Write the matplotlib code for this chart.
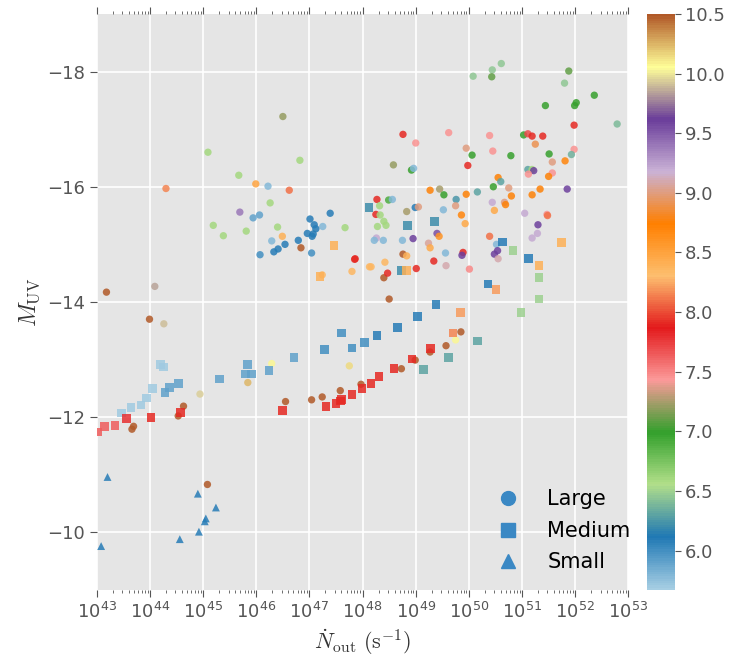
import numpy as np
import matplotlib
matplotlib.use("Agg")
import matplotlib.pyplot as plt
from matplotlib.colors import LinearSegmentedColormap, Normalize
from matplotlib.lines import Line2D
from matplotlib.ticker import LogLocator, NullFormatter

plt.style.use("ggplot")
plt.rcParams["mathtext.fontset"] = "cm"

# ---- data: log10(N_out), M_UV, colour value ----
large_logn = [43.18, 44.09, 43.99, 44.26, 44.94, 44.63, 44.53, 43.66, 43.69, 46.29,
              45.84, 46.55, 47.04, 47.24, 47.58, 47.97, 47.75, 48.40, 48.50, 46.07,
              46.33, 46.41, 47.04, 46.84, 47.24, 47.80, 48.13, 48.16, 48.42, 47.86,
              48.47, 45.08, 46.50, 45.09, 46.82, 45.67, 44.30, 45.99, 46.22, 46.62,
              46.26, 45.69, 45.94, 46.06, 45.19, 45.38, 45.81, 46.40, 46.49, 46.29,
              46.54, 46.79, 48.76, 49.00, 49.62, 49.95, 49.98, 48.58, 48.92, 48.96,
              49.27, 49.45, 49.53, 49.95, 49.76, 49.75, 49.52, 49.86, 49.93, 48.27,
              48.32, 48.49, 48.56, 48.25, 48.33, 48.83, 48.99, 49.05, 48.40, 48.44,
              48.28, 47.67, 47.25, 47.39, 47.01, 47.09, 47.12, 47.07, 46.96, 47.05,
              48.26, 48.22, 48.39, 48.75, 48.95, 49.24, 49.40, 49.44, 49.27, 49.56,
              49.89, 49.87, 49.34, 49.57, 50.01, 47.85, 48.76, 48.83, 49.01, 50.08,
              50.44, 50.61, 50.43, 51.88, 51.80, 52.36, 51.44, 52.02, 51.99, 52.79,
              51.98, 50.39, 51.03, 51.11, 51.19, 51.39, 51.25, 50.45, 50.06, 50.79,
              51.51, 51.98, 51.93, 51.57, 51.81, 51.11, 51.19, 51.22, 51.12, 51.57,
              50.55, 51.50, 50.60, 50.46, 50.75, 51.34, 51.85, 50.16, 50.80, 51.19,
              50.44, 50.67, 50.69, 50.48, 51.05, 51.47, 51.48, 51.30, 51.29, 51.19,
              50.39, 50.52, 50.48, 50.54, 50.55, 49.85, 49.75, 49.27, 49.57, 48.99,
              48.73]
large_muv = [-14.17, -14.27, -13.70, -13.62, -12.40, -12.19, -12.02, -11.79, -11.84, -12.93,
             -12.60, -12.27, -12.30, -12.35, -12.46, -12.57, -12.89, -14.42, -14.05, -14.82,
             -14.87, -14.92, -14.85, -14.94, -14.47, -14.53, -14.61, -14.61, -14.69, -14.75,
             -14.50, -10.83, -17.22, -16.60, -16.46, -16.20, -15.97, -16.05, -16.01, -15.94,
             -15.72, -15.56, -15.46, -15.51, -15.33, -15.15, -15.23, -15.30, -15.14, -15.06,
             -15.00, -15.07, -16.91, -16.76, -16.94, -16.67, -16.37, -16.38, -16.29, -16.32,
             -15.94, -15.96, -15.86, -15.87, -15.78, -15.67, -15.60, -15.51, -15.36, -15.78,
             -15.67, -15.77, -15.78, -15.52, -15.51, -15.57, -15.64, -15.65, -15.40, -15.33,
             -15.31, -15.29, -15.31, -15.54, -15.44, -15.34, -15.27, -15.18, -15.19, -15.14,
             -15.11, -15.07, -15.07, -15.07, -15.10, -15.02, -15.19, -15.14, -14.94, -14.85,
             -14.86, -14.81, -14.71, -14.63, -14.57, -14.74, -14.83, -14.80, -14.58, -17.92,
             -18.03, -18.14, -17.91, -18.01, -17.80, -17.59, -17.41, -17.46, -17.41, -17.09,
             -17.07, -16.89, -16.90, -16.92, -16.88, -16.88, -16.74, -16.62, -16.55, -16.54,
             -16.57, -16.65, -16.56, -16.43, -16.45, -16.30, -16.30, -16.28, -16.22, -16.24,
             -16.16, -16.18, -16.09, -16.00, -15.98, -15.96, -15.96, -15.91, -15.84, -15.86,
             -15.73, -15.73, -15.69, -15.59, -15.54, -15.52, -15.50, -15.34, -15.19, -15.11,
             -15.14, -15.00, -14.83, -14.89, -14.75, -13.48, -13.34, -13.13, -13.24, -12.99,
             -12.84]
large_c = [10.5, 9.85, 10.5, 9.9, 9.95, 10.5, 10.5, 10.5, 10.5, 10.08,
           10.25, 10.5, 10.5, 10.5, 10.5, 10.5, 10.15, 10.5, 10.5, 6.0,
           6.1, 6.1, 6.0, 10.5, 8.35, 8.35, 8.35, 8.35, 8.35, 7.9,
           7.9, 10.5, 7.2, 6.6, 6.6, 6.6, 8.15, 8.5, 5.8, 8.1,
           6.6, 9.4, 5.9, 5.9, 6.6, 6.6, 6.6, 6.6, 8.4, 5.8,
           6.1, 6.1, 7.9, 7.45, 7.45, 9.0, 7.9, 7.2, 7.0, 5.8,
           8.75, 7.25, 7.0, 8.75, 6.25, 9.0, 5.8, 8.7, 8.45, 7.9,
           6.6, 6.9, 5.8, 7.9, 6.6, 7.25, 6.1, 9.0, 6.6, 6.6,
           6.6, 6.6, 5.8, 6.1, 6.1, 6.1, 6.1, 6.1, 6.1, 6.1,
           9.2, 5.8, 5.8, 5.8, 9.6, 9.05, 9.55, 8.6, 8.45, 5.8,
           7.9, 9.6, 7.9, 9.1, 7.5, 7.9, 10.5, 8.4, 7.9, 6.45,
           6.45, 6.45, 7.1, 7.1, 6.45, 7.0, 7.0, 7.0, 7.0, 6.4,
           7.9, 7.45, 7.0, 7.7, 7.9, 7.9, 8.9, 7.45, 7.0, 7.0,
           7.0, 7.45, 6.35, 9.0, 8.7, 6.3, 6.6, 9.6, 7.45, 7.45,
           8.75, 8.75, 6.3, 7.0, 9.0, 8.75, 9.6, 6.3, 8.75, 8.75,
           9.2, 9.0, 8.75, 8.45, 9.2, 7.45, 8.1, 9.6, 9.2, 9.2,
           8.1, 5.8, 9.6, 9.6, 9.1, 10.5, 10.08, 10.5, 10.5, 10.5,
           10.5]

medium_logn = [44.19, 44.26, 44.04, 43.94, 43.83, 43.64, 43.47, 44.37, 44.28, 44.53,
               45.30, 45.84, 45.79, 45.91, 46.24, 46.71, 47.29, 47.60, 47.80, 48.03,
               48.27, 48.65, 49.03, 49.38, 47.20, 47.46, 48.12, 49.36, 48.85, 48.73,
               48.82, 50.64, 50.83, 51.74, 51.12, 51.32, 51.32, 50.36, 50.51, 51.32,
               50.98, 49.84, 49.70, 50.16, 49.61, 49.14, 49.28, 48.93, 48.59, 48.31,
               48.16, 47.99, 47.80, 47.61, 47.58, 47.50, 47.31, 46.50, 44.58, 44.02,
               43.55, 43.34, 43.15, 43.01]
medium_muv = [-12.92, -12.87, -12.49, -12.33, -12.21, -12.16, -12.07, -12.51, -12.43, -12.59,
              -12.66, -12.92, -12.75, -12.75, -12.81, -13.03, -13.18, -13.46, -13.20, -13.29,
              -13.42, -13.56, -13.75, -13.96, -14.44, -14.98, -15.64, -15.40, -15.33, -14.55,
              -14.55, -15.04, -14.89, -15.03, -14.75, -14.63, -14.42, -14.31, -14.22, -14.05,
              -13.82, -13.81, -13.46, -13.32, -13.04, -12.82, -13.19, -13.01, -12.85, -12.70,
              -12.59, -12.49, -12.39, -12.31, -12.28, -12.23, -12.18, -12.11, -12.08, -11.99,
              -11.97, -11.85, -11.83, -11.74]
medium_c = [5.7, 5.7, 5.7, 5.7, 5.7, 5.7, 5.7, 5.9, 5.9, 5.9,
            5.9, 5.9, 5.9, 5.9, 5.9, 5.9, 6.0, 6.0, 6.0, 6.0,
            6.1, 6.1, 6.1, 6.1, 8.4, 8.4, 6.2, 6.2, 6.2, 6.2,
            8.4, 6.1, 6.5, 8.4, 6.1, 8.4, 6.5, 6.1, 8.2, 6.5,
            6.5, 8.2, 8.15, 6.3, 6.3, 6.3, 7.9, 7.9, 7.9, 7.9,
            7.9, 7.9, 7.9, 7.9, 7.9, 7.9, 7.9, 7.9, 7.9, 7.9,
            7.8, 7.65, 7.65, 7.65]

small_logn = [43.20, 44.90, 45.24, 45.05, 45.03, 44.92, 44.56, 43.08]
small_muv = [-10.96, -10.67, -10.43, -10.24, -10.19, -10.01, -9.88, -9.76]
small_c = [6.1, 6.1, 6.1, 6.1, 6.1, 6.1, 6.1, 6.1]

cmap = LinearSegmentedColormap.from_list("paired_smooth", plt.cm.Paired.colors)
norm = Normalize(vmin=5.67, vmax=10.5)

fig = plt.figure(figsize=(7.34, 6.68), dpi=100)
ax = fig.add_axes([0.132, 0.117, 0.724, 0.862])
cax = fig.add_axes([0.881, 0.117, 0.038, 0.862])

sc = ax.scatter(10**np.array(large_logn), large_muv, c=large_c, cmap=cmap, norm=norm,
                marker="o", s=28, alpha=0.85, edgecolors="none")
ax.scatter(10**np.array(medium_logn), medium_muv, c=medium_c, cmap=cmap, norm=norm,
           marker="s", s=40, alpha=0.85, edgecolors="none")
ax.scatter(10**np.array(small_logn), small_muv, c=small_c, cmap=cmap, norm=norm,
           marker="^", s=32, alpha=0.85, edgecolors="none")

ax.set_xscale("log")
ax.set_xlim(1e43, 1e53)
ax.set_ylim(-9, -19)
ax.set_yticks([-18, -16, -14, -12, -10])
ax.set_xticks([10.0**k for k in range(43, 54)])
ax.xaxis.set_minor_locator(LogLocator(base=10, subs=np.arange(2, 10), numticks=200))
ax.xaxis.set_minor_formatter(NullFormatter())
ax.tick_params(axis="both", which="both", labelsize=13, labelcolor="#555555",
               color="#555555", direction="out")
ax.tick_params(axis="both", which="major", length=5)
ax.tick_params(axis="x", which="minor", length=2.5)
ax.tick_params(axis="x", which="both", top=True)
ax.grid(True, which="major", color="white", linewidth=1.2)
ax.grid(False, which="minor")
for s in ax.spines.values():
    s.set_visible(False)

ax.set_xlabel(r"$\dot{N}_{\rm out}\ ({\rm s^{-1}})$", fontsize=16, color="#333333")
ax.set_ylabel(r"$M_{\rm UV}$", fontsize=17, color="#333333")

legend_color = "#3a88c4"
handles = [Line2D([], [], ls="none", marker="o", ms=10, color=legend_color),
           Line2D([], [], ls="none", marker="s", ms=10, color=legend_color),
           Line2D([], [], ls="none", marker="^", ms=10, color=legend_color)]
ax.legend(handles, ["Large", "Medium", "Small"], loc="lower right",
          bbox_to_anchor=(1.02, 0.016), frameon=False, fontsize=15,
          handletextpad=0.9, labelspacing=0.55, borderaxespad=0.0)

cb = fig.colorbar(sc, cax=cax)
cb.solids.set_alpha(1)
cb.set_ticks([6.0, 6.5, 7.0, 7.5, 8.0, 8.5, 9.0, 9.5, 10.0, 10.5])
cb.ax.set_yticklabels(["6.0", "6.5", "7.0", "7.5", "8.0", "8.5", "9.0", "9.5", "10.0", "10.5"])
cb.ax.tick_params(labelsize=13, labelcolor="#555555", color="#555555", length=4)
cb.outline.set_visible(False)

fig.savefig("out.png", dpi=100)
